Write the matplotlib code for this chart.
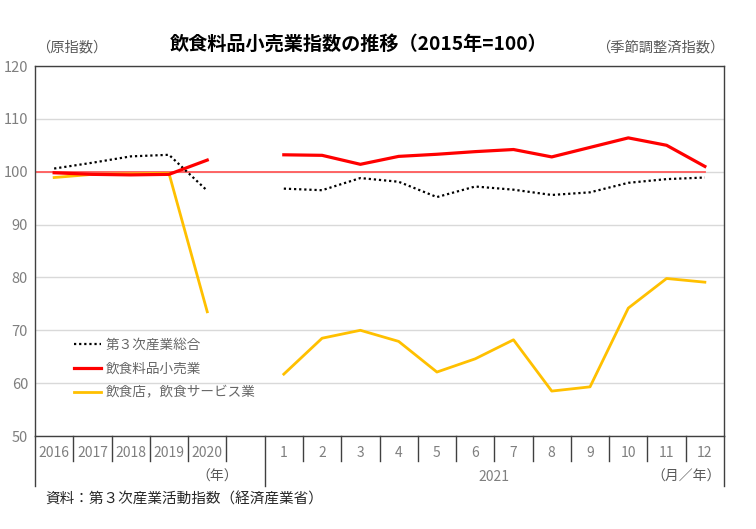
import numpy as np
import matplotlib.pyplot as plt
import matplotlib.transforms as mtransforms

plt.rcParams['font.family'] = ['Noto Sans CJK JP', 'DejaVu Sans']

# categories: 5 annual points, one blank slot, 12 months of 2021
years = ["2016", "2017", "2018", "2019", "2020"]
months = [str(m) for m in range(1, 13)]

# annual (original index)
third_year = [100.6, 101.7, 102.9, 103.2, 96.4]
food_year = [99.8, 99.5, 99.4, 99.5, 102.2]
rest_year = [98.9, 99.5, 99.6, 99.7, 73.5]

# monthly 2021 (seasonally adjusted)
third_month = [96.8, 96.5, 98.8, 98.1, 95.2, 97.2, 96.6, 95.6, 96.1, 97.9, 98.6, 98.9]
food_month = [103.2, 103.1, 101.4, 102.9, 103.3, 103.8, 104.2, 102.8, 104.6, 106.4, 105.0, 101.0]
rest_month = [61.7, 68.5, 70.0, 67.9, 62.1, 64.6, 68.2, 58.5, 59.3, 74.2, 79.8, 79.1]

labels = years + [""] + months
x = np.arange(len(labels))


def join(a, b):
    return np.array(list(a) + [np.nan] + list(b))


third = join(third_year, third_month)
food = join(food_year, food_month)
rest = join(rest_year, rest_month)

fig = plt.figure(figsize=(7.56, 5.29), dpi=100)
ax = fig.add_axes([35 / 756, 1 - 436 / 529, 689 / 756, 370 / 529])

ax.set_xlim(-0.5, len(labels) - 0.5)
ax.set_ylim(50, 120)
ax.set_yticks(range(50, 121, 10))
ax.yaxis.grid(True, color="#d9d9d9", linewidth=1)
ax.set_axisbelow(True)
ax.tick_params(axis="y", length=0, labelsize=10.5, labelcolor="#7f7f7f", pad=5)
ax.set_xticks([])
for s in ax.spines.values():
    s.set_color("#404040")
    s.set_linewidth(1)

# base line at 100
ax.plot([-0.5, x[-1]], [100, 100], color="#ff5a5a", linewidth=1.3, zorder=2)

ax.plot(x, third, color="black", linewidth=1.6, linestyle=(0, (1, 1.3)),
        label="第３次産業総合", zorder=3)
ax.plot(x, food, color="#ff0000", linewidth=2.3, label="飲食料品小売業", zorder=4)
ax.plot(x, rest, color="#ffc000", linewidth=2.0, label="飲食店，飲食サービス業", zorder=3)

leg = ax.legend(loc="upper left", bbox_to_anchor=(74 / 756, 1 - 338 / 529),
                bbox_transform=fig.transFigure, frameon=False, fontsize=9.8,
                handlelength=2.0, handletextpad=0.3, labelspacing=0.72,
                borderpad=0, borderaxespad=0, labelcolor="#666666")

# category labels and separators under the axis
trans = mtransforms.blended_transform_factory(ax.transData, ax.transAxes)
for i, lab in enumerate(labels):
    ax.text(i, -0.045, lab, transform=trans, ha="center", va="center",
            fontsize=10, color="#7f7f7f")
for b in np.arange(0.5, len(labels) - 1, 1.0):
    if b == 5.5:
        continue
    ax.plot([b, b], [0, -0.068], transform=trans, color="#404040",
            linewidth=1, clip_on=False)
for b in [-0.5, 5.5, len(labels) - 0.5]:
    ax.plot([b, b], [0, -0.135], transform=trans, color="#404040",
            linewidth=1, clip_on=False)

fig.text(217 / 756, 1 - 477 / 529, "（年）", ha="center", va="center",
         fontsize=10, color="#595959")
fig.text(494 / 756, 1 - 477 / 529, "2021", ha="center", va="center",
         fontsize=10, color="#7f7f7f")
fig.text(686 / 756, 1 - 477 / 529, "（月／年）", ha="center", va="center",
         fontsize=10, color="#595959")

fig.text(359 / 756, 1 - 44 / 529, "飲食料品小売業指数の推移（2015年=100）",
         ha="center", va="center", fontsize=13.8, fontweight="bold", color="black")
fig.text(36 / 756, 1 - 47 / 529, "（原指数）", ha="left", va="center",
         fontsize=10.3, color="#595959")
fig.text(724 / 756, 1 - 47 / 529, "（季節調整済指数）", ha="right", va="center",
         fontsize=10.3, color="#595959")
fig.text(45 / 756, 1 - 500 / 529, "資料：第３次産業活動指数（経済産業省）",
         ha="left", va="center", fontsize=10.5, color="#262626")

fig.savefig("out.png", dpi=100)
